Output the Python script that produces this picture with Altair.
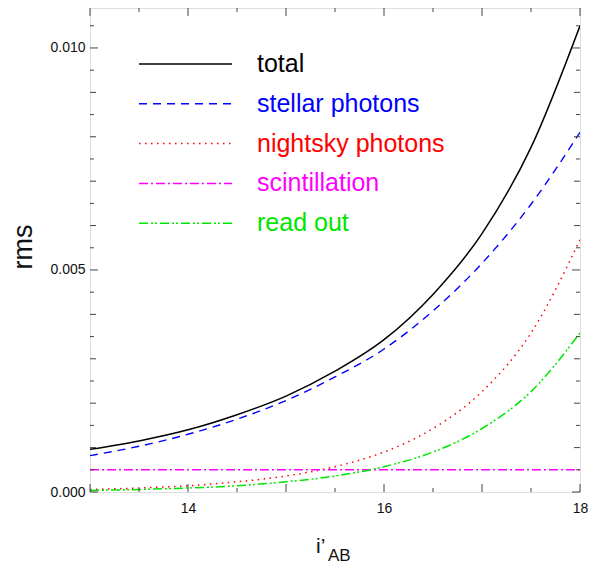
import altair as alt
import pandas as pd

# ---- data ----
mag = [13.0, 13.5, 14.0, 14.5, 15.0, 15.5, 16.0, 16.5, 17.0, 17.5, 18.0]
total = [0.00096, 0.00115, 0.00140, 0.00174, 0.00216, 0.00272, 0.00343, 0.00445, 0.00582, 0.00776, 0.01050]
stellar = [0.00082, 0.00103, 0.00130, 0.00164, 0.00206, 0.00259, 0.00322, 0.00408, 0.00515, 0.00648, 0.00810]
nightsky = [0.000057, 0.00009, 0.00014, 0.00023, 0.00036, 0.00057, 0.00090, 0.00143, 0.00226, 0.00358, 0.00568]
scintillation = [0.0005, 0.0005, 0.0005, 0.0005, 0.0005, 0.0005, 0.0005, 0.0005, 0.0005, 0.0005, 0.0005]
readout = [0.000036, 0.000057, 0.00009, 0.00014, 0.00023, 0.00036, 0.00057, 0.00090, 0.00143, 0.00226, 0.00358]

series_names = ["total", "stellar photons", "nightsky photons", "scintillation", "read out"]
series_values = [total, stellar, nightsky, scintillation, readout]
series_colors = ["#000000", "#0000ff", "#ff0000", "#ff00ff", "#00e600"]
series_dashes = [None, [8, 6], [1.5, 4.5], [9, 3, 2, 3], [9, 3, 2, 2, 2, 3]]
series_widths = [1.5, 1.4, 1.5, 1.5, 1.5]

x_labels = [14, 16, 18]
y_labels = [0.000, 0.005, 0.010]
x_major_ticks = [13, 14, 15, 16, 17, 18]
x_minor_ticks = [13.5, 14.5, 15.5, 16.5, 17.5]
y_big_ticks = [0.000, 0.005, 0.010]
y_mid_ticks = [0.001, 0.002, 0.003, 0.004, 0.006, 0.007, 0.008, 0.009]
y_minor_ticks = [0.0005, 0.0015, 0.0025, 0.0035, 0.0045, 0.0055, 0.0065, 0.0075, 0.0085, 0.0095, 0.0105]

W, H = 490, 484
FONT = "Liberation Sans"

xs = alt.Scale(domain=[13, 18], nice=False, zero=False)
ys = alt.Scale(domain=[0, 0.0109], nice=False, zero=False)
xax = alt.Axis(values=x_labels, format="d", title=None, ticks=False, domain=False, grid=False,
               labelFontSize=14, labelPadding=9, labelFlush=False, labelColor="#111", labelFont=FONT)
yax = alt.Axis(values=y_labels, format=".3f", title=None, ticks=False, domain=False, grid=False,
               labelFontSize=14, labelPadding=5, labelFlush=False, labelColor="#111", labelFont=FONT)

layers = []
for name, vals, col, dash, sw in zip(series_names, series_values, series_colors, series_dashes, series_widths):
    df = pd.DataFrame({"m": mag, "v": vals})
    kw = dict(color=col, strokeWidth=sw, interpolate="monotone", clip=True)
    if dash is not None:
        kw["strokeDash"] = dash
    layers.append(
        alt.Chart(df).mark_line(**kw).encode(
            x=alt.X("m:Q", scale=xs, axis=xax),
            y=alt.Y("v:Q", scale=ys, axis=yax),
        )
    )

# inward ticks (drawn through the scales)
def xticks(vals, length):
    df = pd.DataFrame({"m": vals})
    bottom = alt.Chart(df).mark_rule(color="#444", strokeWidth=1).encode(
        x=alt.X("m:Q", scale=xs, axis=xax), y=alt.value(H), y2=alt.value(H - length))
    top = alt.Chart(df).mark_rule(color="#444", strokeWidth=1).encode(
        x=alt.X("m:Q", scale=xs, axis=xax), y=alt.value(0), y2=alt.value(length))
    return [bottom, top]

def yticks(vals, length):
    df = pd.DataFrame({"v": vals})
    left = alt.Chart(df).mark_rule(color="#444", strokeWidth=1).encode(
        y=alt.Y("v:Q", scale=ys, axis=yax), x=alt.value(0), x2=alt.value(length))
    right = alt.Chart(df).mark_rule(color="#444", strokeWidth=1).encode(
        y=alt.Y("v:Q", scale=ys, axis=yax), x=alt.value(W), x2=alt.value(W - length))
    return [left, right]

layers += xticks(x_major_ticks, 8)
layers += xticks(x_minor_ticks, 4)
layers += yticks(y_big_ticks, 8)
layers += yticks(y_mid_ticks, 6)
layers += yticks(y_minor_ticks, 4)

# manual legend
for i, (name, col, dash, sw) in enumerate(zip(series_names, series_colors, series_dashes, series_widths)):
    yy = 56 + 39.8 * i
    kw = dict(color=col, strokeWidth=sw)
    if dash is not None:
        kw["strokeDash"] = dash
    layers.append(
        alt.Chart(pd.DataFrame({"k": [0]})).mark_rule(**kw).encode(
            x=alt.value(49), x2=alt.value(142), y=alt.value(yy))
    )
    layers.append(
        alt.Chart(pd.DataFrame({"k": [0]})).mark_text(
            text=name, color=col, fontSize=25, font=FONT, align="left", baseline="middle"
        ).encode(x=alt.value(167), y=alt.value(yy))
    )

# axis titles
layers.append(
    alt.Chart(pd.DataFrame({"k": [0]})).mark_text(
        text="rms", fontSize=27, font=FONT, angle=270, align="center", baseline="middle", color="#111"
    ).encode(x=alt.value(-66), y=alt.value(239))
)
layers.append(
    alt.Chart(pd.DataFrame({"k": [0]})).mark_text(
        text="i\u2019", fontSize=21, font=FONT, align="left", baseline="alphabetic", color="#111"
    ).encode(x=alt.value(226), y=alt.value(545))
)
layers.append(
    alt.Chart(pd.DataFrame({"k": [0]})).mark_text(
        text="AB", fontSize=17, font=FONT, align="left", baseline="alphabetic", color="#111"
    ).encode(x=alt.value(238), y=alt.value(553))
)

chart = alt.layer(*layers).properties(
    width=W, height=H,
    autosize=alt.AutoSizeParams(type="none"),
    padding={"left": 82, "top": 0, "right": 16, "bottom": 72},
).configure_view(
    stroke="#111", strokeWidth=1.5
).configure(font=FONT)

chart.save("out.html", embed_options={"renderer": "svg", "actions": False})
